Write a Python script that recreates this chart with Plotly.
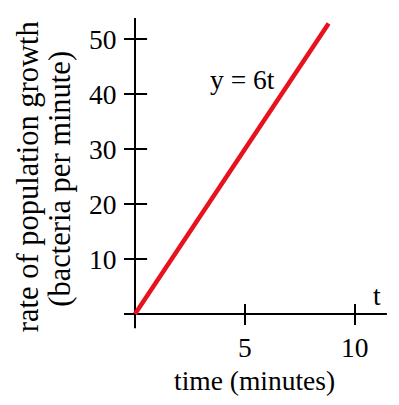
import plotly.graph_objects as go

# Data
t_vals = [0, 8.8]
rate_vals = [6 * t for t in t_vals]  # y = 6t endpoints
x_ticks = [5, 10]
x_tick_labels = ["5", "10"]
y_ticks = [10, 20, 30, 40, 50]
y_tick_labels = ["10", "20", "30", "40", "50"]
y_title_lines = ["rate of population growth", "(bacteria per minute)"]

FONT = "Liberation Serif, Times New Roman, serif"
FS = 27.5

fig = go.Figure()

# axis lines
fig.add_trace(go.Scatter(x=[0, 0], y=[-2.6, 53.8], mode="lines",
                         line=dict(color="black", width=2), hoverinfo="skip"))
fig.add_trace(go.Scatter(x=[-0.45, 11.45], y=[0, 0], mode="lines",
                         line=dict(color="black", width=2), hoverinfo="skip"))
# y ticks (crossing)
for v in y_ticks + [0]:
    fig.add_trace(go.Scatter(x=[-0.5, 0.55], y=[v, v], mode="lines",
                             line=dict(color="black", width=2), hoverinfo="skip"))
# x ticks (crossing)
for t in x_ticks:
    fig.add_trace(go.Scatter(x=[t, t], y=[1.8, -2.0], mode="lines",
                             line=dict(color="black", width=2), hoverinfo="skip"))

# red line
fig.add_trace(go.Scatter(x=t_vals, y=rate_vals, mode="lines",
                         line=dict(color="#E8121E", width=4.5), hoverinfo="skip"))

ann = []
for v, lab in zip(y_ticks, y_tick_labels):
    ann.append(dict(x=0, y=v, text=lab, showarrow=False, xanchor="right",
                    yanchor="middle", xshift=-16, font=dict(family=FONT, size=FS, color="black")))
for t, lab in zip(x_ticks, x_tick_labels):
    ann.append(dict(x=t, y=0, text=lab, showarrow=False, xanchor="center",
                    yanchor="middle", yshift=-33, font=dict(family=FONT, size=FS, color="black")))
ann.append(dict(x=11.0, y=3.45, text="t", showarrow=False, xanchor="center", yanchor="middle",
                font=dict(family=FONT, size=FS, color="black")))
ann.append(dict(x=4.9, y=42.7, text="y = 6t", showarrow=False, xanchor="center", yanchor="middle",
                font=dict(family=FONT, size=FS, color="black")))
ann.append(dict(x=5.45, y=-12.0, text="time (minutes)", showarrow=False, xanchor="center",
                yanchor="middle", font=dict(family=FONT, size=FS, color="black")))
for xpos, ypos, line in zip([-4.86, -3.41], [24.9, 24.6], y_title_lines):
    ann.append(dict(x=xpos, y=ypos, text=line, showarrow=False, textangle=-90,
                    xanchor="center", yanchor="middle",
                    font=dict(family=FONT, size=30.5, color="black")))

fig.update_layout(
    width=399, height=405,
    margin=dict(l=0, r=0, t=0, b=0),
    paper_bgcolor="white", plot_bgcolor="white",
    showlegend=False,
    annotations=ann,
    xaxis=dict(range=[-135 / 22, (399 - 135) / 22], showgrid=False, zeroline=False,
               showticklabels=False, ticks="", fixedrange=True),
    yaxis=dict(range=[(314 - 405) / 5.5, 314 / 5.5], showgrid=False, zeroline=False,
               showticklabels=False, ticks="", fixedrange=True),
)

fig.write_html("out.html", config={"displayModeBar": False},
               post_script="document.body.style.margin='0';document.body.style.overflow='hidden';")
